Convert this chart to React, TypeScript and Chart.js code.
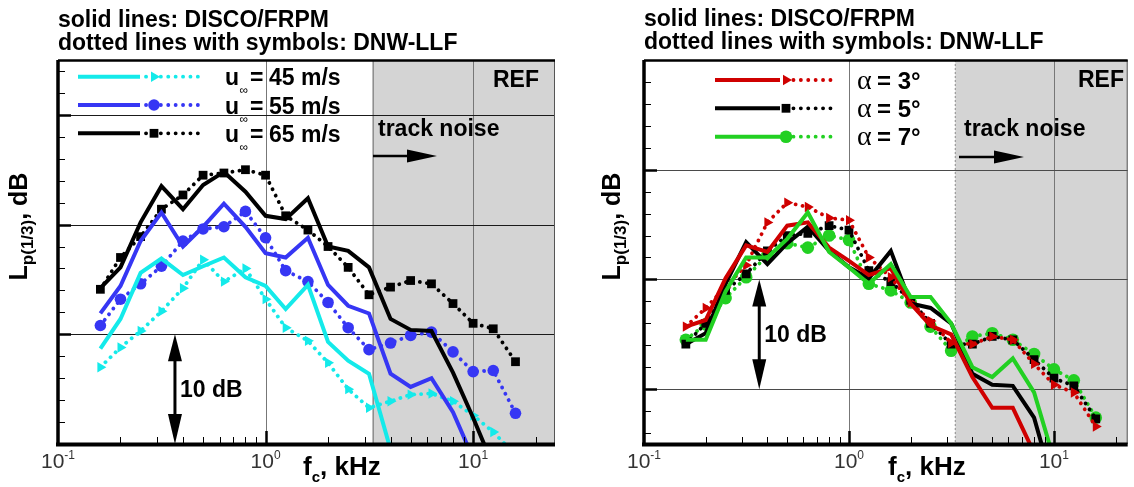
import React, { useEffect, useRef } from 'react';
import { Chart, registerables } from 'chart.js';

Chart.register(...registerables);

// ---------------- data ----------------
const frequencies = [0.16, 0.2, 0.25, 0.315, 0.4, 0.5, 0.63, 0.8, 1, 1.25, 1.6, 2, 2.5, 3.15, 4, 5, 6.3, 8, 10, 12.5, 16];

const titleLines = ['solid lines: DISCO/FRPM', 'dotted lines with symbols: DNW-LLF'];
const xTickValues = [0.1, 1, 10];
const xTickExponents = ['-1', '0', '1'];
const trackNoiseStart = 3.3; // kHz

// left panel: flow speed
const speedLabels = ['45 m/s', '55 m/s', '65 m/s'];
const disco45 = [8.7, 11.4, 15.6, 16.9, 15.4, 16.2, 17.0, 15.2, 14.4, 12.3, 14.5, 9.3, 7.6, 6.4, -0.5, null, null, null, null, null, null];
const disco55 = [11.9, 14.4, 18.5, 21.1, 18.0, 19.8, 21.9, 19.8, 17.4, 17.0, 18.8, 14.5, 12.6, 11.9, 6.4, 5.2, 6.0, 2.9, -1.3, null, null];
const disco65 = [14.2, 16.1, 20.2, 23.5, 21.4, 23.6, 24.8, 23.0, 20.8, 20.5, 22.4, 18.0, 17.6, 16.1, 11.4, 10.4, 10.3, 6.5, 2.4, -2.0, null];
const dnw45 = [7.0, 8.8, 10.3, 12.1, 14.2, 16.8, 14.8, 16.0, 13.2, 10.6, 9.4, 7.4, 5.0, 3.3, 3.9, 4.5, 4.6, 3.9, 2.6, 1.1, -1.0];
const dnw55 = [10.8, 13.2, 14.6, 16.2, 18.5, 19.6, 19.8, 21.2, 18.8, 15.8, 14.8, 12.9, 10.6, 8.6, 9.2, 9.9, 10.2, 8.4, 6.6, 6.7, 2.8];
const dnw65 = [14.1, 17.0, 18.9, 21.4, 22.7, 24.5, 24.7, 25.0, 24.5, 20.8, 19.5, 18.0, 16.1, 13.6, 14.3, 14.9, 14.6, 12.8, 11.0, 10.5, 7.5];

// right panel: angle of attack
const angleLabels = ['3°', '5°', '7°'];
const disco3 = [15.7, 16.3, 20.1, 23.1, 22.5, 24.9, 25.2, 22.9, 21.7, 20.4, 21.0, 17.8, 15.8, 15.0, 11.1, 8.3, 8.3, 4.2, null, null, null];
const disco5 = [14.1, 15.1, 19.6, 23.4, 21.4, 23.3, 24.8, 22.6, 21.1, 20.1, 22.6, 17.8, 17.4, 16.0, 11.4, 10.4, 10.3, 7.4, 1.0, null, null];
const disco7 = [14.5, 14.5, 18.9, 22.0, 22.0, 23.7, 26.1, 22.5, 21.1, 19.6, 21.4, 18.4, 18.4, 16.0, 12.0, 11.1, 12.8, 9.7, 3.6, null, null];
const dnw3 = [15.7, 17.4, 19.3, 21.3, 25.2, 27.0, 26.6, 25.6, 25.4, 22.0, 20.2, 17.9, 16.2, 14.2, 14.1, 14.8, 14.5, 12.3, 10.4, 9.7, 6.6];
const dnw5 = [14.1, 16.0, 19.0, 20.5, 22.6, 24.0, 24.2, 24.9, 24.5, 20.8, 19.8, 18.1, 16.0, 14.1, 14.1, 14.8, 14.5, 12.7, 11.0, 10.3, 7.3];
const dnw7 = [14.5, 15.9, 18.3, 20.2, 22.2, 23.3, 22.9, 24.0, 23.6, 19.6, 19.0, 17.9, 15.7, 13.5, 14.8, 15.1, 14.5, 13.2, 11.8, 10.8, 7.4];

// ---------------- styling ----------------
const SANS = '"Liberation Sans", Arial, Helvetica, sans-serif';
const SERIF = '"Liberation Serif", "Times New Roman", serif';
const CYAN = '#14eaea';
const BLUE = '#3636f4';
const BLACK = '#000000';
const RED = '#cf0000';
const GREEN = '#22d022';

type Part = { t: string; size: number; bold?: boolean; dy?: number; family?: string };

function partFont(p: Part) {
  return `${p.bold ? 'bold ' : ''}${p.size}px ${p.family || SANS}`;
}
function measureParts(ctx: CanvasRenderingContext2D, parts: Part[]) {
  let w = 0;
  for (const p of parts) {
    ctx.font = partFont(p);
    w += ctx.measureText(p.t).width;
  }
  return w;
}
function drawParts(ctx: CanvasRenderingContext2D, x: number, y: number, parts: Part[], align = 'left', color = '#000') {
  const w = measureParts(ctx, parts);
  let cx = align === 'left' ? x : align === 'center' ? x - w / 2 : x - w;
  ctx.textAlign = 'left';
  ctx.textBaseline = 'alphabetic';
  ctx.fillStyle = color;
  for (const p of parts) {
    ctx.font = partFont(p);
    ctx.fillText(p.t, cx, y + (p.dy || 0));
    cx += ctx.measureText(p.t).width;
  }
}

function drawMarker(ctx: CanvasRenderingContext2D, style: string, x: number, y: number, r: number, color: string) {
  ctx.save();
  ctx.fillStyle = color;
  ctx.beginPath();
  if (style === 'circle') ctx.arc(x, y, r, 0, Math.PI * 2);
  else if (style === 'rect') {
    const s = r * Math.SQRT1_2;
    ctx.rect(x - s, y - s, 2 * s, 2 * s);
  } else {
    ctx.moveTo(x + r, y);
    ctx.lineTo(x - r * 0.5, y - r * 0.866);
    ctx.lineTo(x - r * 0.5, y + r * 0.866);
    ctx.closePath();
  }
  ctx.fill();
  ctx.restore();
}

function arrowHead(ctx: CanvasRenderingContext2D, tipX: number, tipY: number, dirX: number, dirY: number, len: number, half: number) {
  const bx = tipX - dirX * len;
  const by = tipY - dirY * len;
  const nx = -dirY;
  const ny = dirX;
  ctx.beginPath();
  ctx.moveTo(tipX, tipY);
  ctx.lineTo(bx + nx * half, by + ny * half);
  ctx.lineTo(bx - nx * half, by - ny * half);
  ctx.closePath();
  ctx.fill();
}

type Series = { color: string; solid: (number | null)[]; dotted: (number | null)[]; marker: string; r: number };

const leftSeries: Series[] = [
  { color: CYAN, solid: disco45, dotted: dnw45, marker: 'triangle', r: 6 },
  { color: BLUE, solid: disco55, dotted: dnw55, marker: 'circle', r: 5.8 },
  { color: BLACK, solid: disco65, dotted: dnw65, marker: 'rect', r: 6.2 },
];
const rightSeries: Series[] = [
  { color: RED, solid: disco3, dotted: dnw3, marker: 'triangle', r: 6 },
  { color: BLACK, solid: disco5, dotted: dnw5, marker: 'rect', r: 6.2 },
  { color: GREEN, solid: disco7, dotted: dnw7, marker: 'circle', r: 6.3 },
];

const leftPanel = {
  key: 'left',
  width: 567,
  height: 487,
  area: { left: 58, top: 60, right: 555, bottom: 444 },
  xMax: 24.8,
  yMin: 0,
  yMax: 35,
  series: leftSeries,
  solidOrder: [2, 1, 0],
  hGridColor: '#1a1a1a',
  boundaryDash: [] as number[],
  boundaryWidth: 1.5,
  arrowLow: 0,
  arrowHigh: 10,
  arrowF: 0.366,
  titleX: 58,
  titleBase: [26.5, 49.5],
  legend: { x1: 78, x2: 140, xm: 154, x3: 205, rows: [76.7, 105, 133.3], tx: 225 },
  legendKind: 'speed',
  legendLabels: speedLabels,
  refRight: 539,
  trackX: 378,
  arrowX: [373, 437],
  arrowY: 156,
  xTitleX: 303,
  yTitleX: 27,
};

const rightPanel = {
  key: 'right',
  width: 567,
  height: 487,
  area: { left: 77, top: 60, right: 566, bottom: 444 },
  xMax: 22.9,
  yMin: 5,
  yMax: 40,
  series: rightSeries,
  solidOrder: [1, 2, 0],
  hGridColor: '#4a4a4a',
  boundaryDash: [2, 2],
  boundaryWidth: 1,
  arrowLow: 10,
  arrowHigh: 20,
  arrowF: 0.365,
  titleX: 77,
  titleBase: [26, 48.5],
  legend: { x1: 148, x2: 213, xm: 219, x3: 270, rows: [80, 108.3, 136.7], tx: 290 },
  legendKind: 'angle',
  legendLabels: angleLabels,
  refRight: 557,
  trackX: 397,
  arrowX: [392, 457],
  arrowY: 157,
  xTitleX: 321,
  yTitleX: 53,
};

function makeDeco(p: any) {
  return {
    id: 'deco' + p.key,
    beforeDatasetsDraw(chart: any) {
      const { ctx, chartArea: a, scales } = chart;
      const xs = scales.x;
      const ys = scales.y;
      ctx.save();
      const gx = xs.getPixelForValue(trackNoiseStart);
      ctx.fillStyle = '#d4d4d4';
      ctx.fillRect(gx, a.top, a.right - gx, a.bottom - a.top);
      ctx.strokeStyle = '#8a8a8a';
      ctx.lineWidth = p.boundaryWidth;
      ctx.setLineDash(p.boundaryDash);
      ctx.beginPath();
      ctx.moveTo(gx, a.top);
      ctx.lineTo(gx, a.bottom);
      ctx.stroke();
      ctx.setLineDash([]);
      // vertical grid lines at decades
      ctx.strokeStyle = '#777';
      ctx.lineWidth = 1;
      for (const v of [1, 10]) {
        const x = Math.round(xs.getPixelForValue(v)) + 0.5;
        ctx.beginPath();
        ctx.moveTo(x, a.top);
        ctx.lineTo(x, a.bottom);
        ctx.stroke();
      }
      // horizontal grid lines every 10 dB
      ctx.strokeStyle = p.hGridColor;
      for (let v = 10; v < p.yMax; v += 10) {
        if (v <= p.yMin) continue;
        const y = Math.round(ys.getPixelForValue(v)) + 0.5;
        ctx.beginPath();
        ctx.moveTo(a.left, y);
        ctx.lineTo(a.right, y);
        ctx.stroke();
      }
      ctx.restore();
    },
    afterDraw(chart: any) {
      const { ctx, chartArea: a, scales } = chart;
      const xs = scales.x;
      const ys = scales.y;
      ctx.save();
      // y ticks (inward)
      ctx.strokeStyle = '#000';
      for (let v = Math.floor(p.yMin / 2) * 2 + 2; v < p.yMax; v += 2) {
        const y = Math.round(ys.getPixelForValue(v)) + 0.5;
        const major = v % 10 === 0;
        ctx.lineWidth = major ? 2.5 : 1;
        ctx.beginPath();
        ctx.moveTo(a.left, y);
        ctx.lineTo(a.left + (major ? 13 : 7), y);
        ctx.stroke();
      }
      // x ticks (inward)
      for (let k = -1; k <= 1; k++) {
        for (let m = 1; m <= 9; m++) {
          const v = m * Math.pow(10, k);
          if (v <= 0.1 || v >= p.xMax) continue;
          const x = Math.round(xs.getPixelForValue(v)) + 0.5;
          const major = m === 1;
          ctx.lineWidth = major ? 2.5 : 1;
          ctx.beginPath();
          ctx.moveTo(x, a.bottom);
          ctx.lineTo(x, a.bottom - (major ? 13 : 7));
          ctx.stroke();
        }
      }
      // frame
      ctx.strokeStyle = '#555';
      ctx.lineWidth = 1;
      ctx.beginPath();
      ctx.moveTo(a.right - 0.5, a.top);
      ctx.lineTo(a.right - 0.5, a.bottom);
      ctx.stroke();
      ctx.strokeStyle = '#000';
      ctx.lineWidth = 2.5;
      ctx.beginPath();
      ctx.moveTo(a.left, a.top + 0.5);
      ctx.lineTo(a.right, a.top + 0.5);
      ctx.stroke();
      ctx.lineWidth = 3.5;
      ctx.beginPath();
      ctx.moveTo(a.left, a.top);
      ctx.lineTo(a.left, a.bottom + 2);
      ctx.stroke();
      ctx.lineWidth = 4;
      ctx.beginPath();
      ctx.moveTo(a.left - 2, a.bottom + 0.5);
      ctx.lineTo(a.right, a.bottom + 0.5);
      ctx.stroke();

      // x tick labels
      xTickValues.forEach((v, i) => {
        const x = xs.getPixelForValue(v);
        drawParts(ctx, x, 468, [
          { t: '10', size: 21 },
          { t: xTickExponents[i], size: 12, dy: -9 },
        ], 'center', '#333');
      });
      // x title
      drawParts(ctx, p.xTitleX, 475, [
        { t: 'f', size: 26, bold: true },
        { t: 'c', size: 15, bold: true, dy: 7 },
        { t: ', kHz', size: 26, bold: true },
      ]);
      // y title
      ctx.save();
      ctx.translate(p.yTitleX, 226.5);
      ctx.rotate(-Math.PI / 2);
      drawParts(ctx, 0, 0, [
        { t: 'L', size: 25, bold: true },
        { t: 'p(1/3)', size: 17, bold: true, dy: 6 },
        { t: ', dB', size: 25, bold: true },
      ], 'center');
      ctx.restore();

      // titles
      titleLines.forEach((t, i) => {
        drawParts(ctx, p.titleX, p.titleBase[i], [{ t, size: 23, bold: true }]);
      });

      // legend
      const L = p.legend;
      p.series.forEach((s: Series, i: number) => {
        const y = L.rows[i];
        ctx.strokeStyle = s.color;
        ctx.lineCap = 'butt';
        ctx.lineWidth = 4;
        ctx.beginPath();
        ctx.moveTo(L.x1, y);
        ctx.lineTo(L.x2, y);
        ctx.stroke();
        ctx.lineCap = 'round';
        ctx.setLineDash([0.1, 7.3]);
        ctx.lineWidth = 3.8;
        ctx.beginPath();
        ctx.moveTo(L.x2 + 6, y);
        ctx.lineTo(L.x3, y);
        ctx.stroke();
        ctx.setLineDash([]);
        ctx.lineCap = 'butt';
        drawMarker(ctx, s.marker, L.xm, y, s.r, s.color);
        const base = y + 8.5;
        if (p.legendKind === 'speed') {
          drawParts(ctx, L.tx, base, [{ t: 'u', size: 23, bold: true }]);
          drawParts(ctx, L.tx + 14.5, base + 9, [{ t: '∞', size: 12 }]);
          drawParts(ctx, L.tx + 25, base, [{ t: '=', size: 23, bold: true }]);
          drawParts(ctx, L.tx + 44, base, [{ t: p.legendLabels[i], size: 23, bold: true }]);
        } else {
          drawParts(ctx, L.tx, base, [{ t: 'α', size: 28, family: SERIF }]);
          drawParts(ctx, L.tx + 20, base, [{ t: '= ' + p.legendLabels[i], size: 24, bold: true }]);
        }
      });

      // REF and track noise
      drawParts(ctx, p.refRight, 87, [{ t: 'REF', size: 23, bold: true }], 'right');
      drawParts(ctx, p.trackX, 136, [{ t: 'track noise', size: 23, bold: true }]);
      ctx.fillStyle = '#000';
      ctx.strokeStyle = '#000';
      ctx.lineWidth = 2.5;
      ctx.beginPath();
      ctx.moveTo(p.arrowX[0], p.arrowY);
      ctx.lineTo(p.arrowX[1] - 20, p.arrowY);
      ctx.stroke();
      arrowHead(ctx, p.arrowX[1], p.arrowY, 1, 0, 30, 6.5);

      // 10 dB arrow
      const ax = xs.getPixelForValue(p.arrowF);
      const yTop = ys.getPixelForValue(p.arrowHigh);
      const yBot = ys.getPixelForValue(p.arrowLow);
      ctx.lineWidth = 3;
      ctx.beginPath();
      ctx.moveTo(ax, yTop + 15);
      ctx.lineTo(ax, yBot - 15);
      ctx.stroke();
      arrowHead(ctx, ax, yTop, 0, -1, 27, 7);
      arrowHead(ctx, ax, yBot, 0, 1, 30, 7);
      const yMid = ys.getPixelForValue((p.arrowHigh + p.arrowLow) / 2);
      drawParts(ctx, ax + 5, yMid + 8, [{ t: '10 dB', size: 23, bold: true }]);
      ctx.restore();
    },
  };
}

function toXY(vals: (number | null)[]) {
  const out: { x: number; y: number }[] = [];
  vals.forEach((v, i) => {
    if (v !== null && v !== undefined) out.push({ x: frequencies[i], y: v });
  });
  return out;
}

function makeChart(canvas: HTMLCanvasElement, p: any) {
  const datasets: any[] = [];
  p.series.forEach((s: Series, i: number) => {
    datasets.push({
      label: 'DISCO/FRPM ' + p.legendLabels[i],
      data: toXY(s.solid),
      borderColor: s.color,
      backgroundColor: s.color,
      borderWidth: 4,
      pointRadius: 0,
      tension: 0,
      fill: false,
      borderJoinStyle: 'miter',
      order: p.solidOrder[i],
    });
    datasets.push({
      label: 'DNW-LLF ' + p.legendLabels[i],
      data: toXY(s.dotted),
      borderColor: s.color,
      backgroundColor: s.color,
      borderWidth: 3.8,
      borderDash: [0.1, 7],
      borderCapStyle: 'round',
      pointStyle: s.marker,
      pointRadius: s.r,
      pointRotation: s.marker === 'triangle' ? 90 : 0,
      pointBorderWidth: 0,
      pointBackgroundColor: s.color,
      pointBorderColor: s.color,
      tension: 0,
      fill: false,
      order: 3 + i,
    });
  });
  return new Chart(canvas, {
    type: 'line',
    data: { datasets },
    options: {
      responsive: false,
      animation: false,
      devicePixelRatio: 1,
      events: [],
      layout: {
        padding: {
          left: p.area.left,
          top: p.area.top,
          right: p.width - p.area.right,
          bottom: p.height - p.area.bottom,
        },
      },
      scales: {
        x: { type: 'logarithmic', min: 0.1, max: p.xMax, display: false },
        y: { type: 'linear', min: p.yMin, max: p.yMax, display: false },
      },
      plugins: {
        legend: { display: false },
        tooltip: { enabled: false },
        title: { display: false },
      },
    } as any,
    plugins: [makeDeco(p)],
  });
}

export default function App() {
  const leftRef = useRef<HTMLCanvasElement>(null);
  const rightRef = useRef<HTMLCanvasElement>(null);
  useEffect(() => {
    const charts = [makeChart(leftRef.current!, leftPanel), makeChart(rightRef.current!, rightPanel)];
    return () => charts.forEach((c) => c.destroy());
  }, []);
  return (
    <div style={{ position: 'absolute', left: 0, top: 0, width: 1134, height: 487, background: '#fff', overflow: 'hidden' }}>
      <canvas ref={leftRef} width={567} height={487} style={{ position: 'absolute', left: 0, top: 0, width: 567, height: 487 }} />
      <canvas ref={rightRef} width={567} height={487} style={{ position: 'absolute', left: 567, top: 0, width: 567, height: 487 }} />
    </div>
  );
}
